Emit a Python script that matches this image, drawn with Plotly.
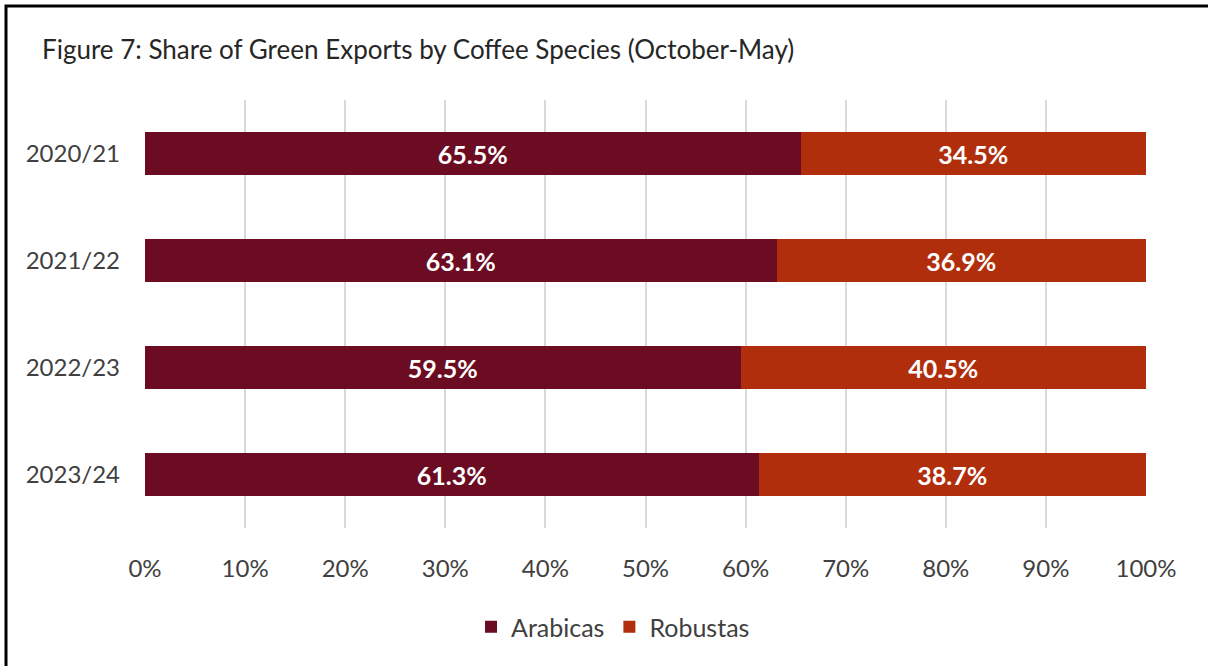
import plotly.graph_objects as go

years = ["2020/21", "2021/22", "2022/23", "2023/24"]
arabicas = [65.5, 63.1, 59.5, 61.3]
robustas = [34.5, 36.9, 40.5, 38.7]
x_ticks = [0, 10, 20, 30, 40, 50, 60, 70, 80, 90, 100]
x_tick_labels = ["0%", "10%", "20%", "30%", "40%", "50%", "60%", "70%", "80%", "90%", "100%"]

FONT = "Lato"
fig = go.Figure()
fig.add_trace(go.Bar(
    y=years, x=arabicas, name="Arabicas", orientation="h",
    marker=dict(color="#6B0C22", line=dict(width=0)),
    texttemplate="<b>%{x:.1f}%</b>", textposition="inside", insidetextanchor="middle",
    textfont=dict(color="white", size=25, family=FONT),
))
fig.add_trace(go.Bar(
    y=years, x=robustas, name="Robustas", orientation="h",
    marker=dict(color="#B02E0C", line=dict(width=0)),
    texttemplate="<b>%{x:.1f}%</b>", textposition="inside", insidetextanchor="middle",
    textfont=dict(color="white", size=25, family=FONT),
))

fig.update_layout(
    width=1208, height=666,
    barmode="stack", bargap=0.6,
    plot_bgcolor="white", paper_bgcolor="white",
    font=dict(family=FONT, size=24, color="#404040"),
    margin=dict(l=145, r=62, t=100, b=138),
    title=dict(text="Figure 7: Share of Green Exports by Coffee Species (October-May)",
               x=42/1208, xanchor="left", y=1-50/666, yanchor="middle",
               font=dict(size=26, color="#262626", family=FONT)),
    xaxis=dict(range=[0, 100], tickvals=x_ticks, ticktext=x_tick_labels, showgrid=True,
               gridcolor="#D9D9D9", gridwidth=2, zeroline=False, showline=False,
               ticklabelstandoff=24, tickfont=dict(size=24, color="#404040"), fixedrange=True),
    yaxis=dict(categoryorder="array", categoryarray=years, autorange="reversed",
               showgrid=False, zeroline=False, showline=False, ticklabelstandoff=24,
               tickfont=dict(size=24, color="#404040")),
    legend=dict(orientation="h", x=(613-145)/1001, xanchor="center", y=(528-627)/428,
                yanchor="middle", font=dict(size=25, color="#404040"), itemwidth=30,
                traceorder="normal"),
    showlegend=True,
    shapes=[dict(type="rect", xref="paper", yref="paper",
                 x0=(6-145)/1001, x1=(1230-145)/1001, y0=(528-700)/428, y1=(528-6)/428,
                 line=dict(color="black", width=3), fillcolor="rgba(0,0,0,0)", layer="above")],
)

fig.write_html("out.html")
